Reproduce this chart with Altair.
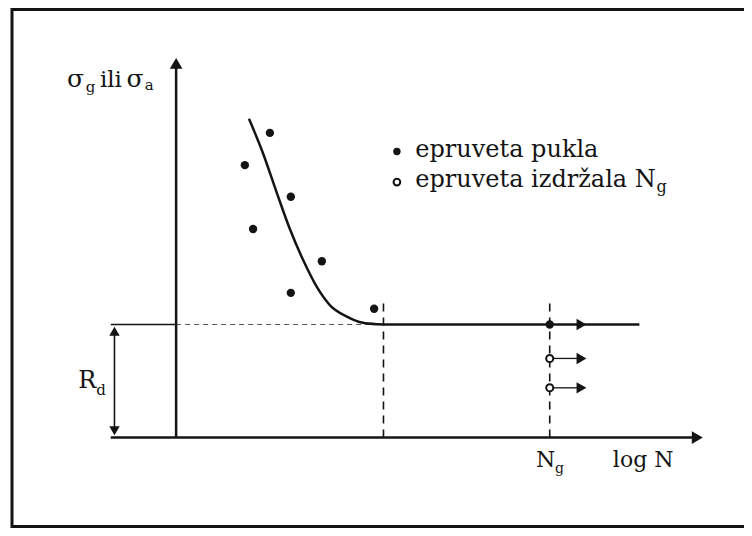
import altair as alt
import pandas as pd

# ---------------- data (schematic Wöhler diagram) ----------------
# S-N curve (log N, sigma) down to the endurance limit
curve_logN = [1.95, 2.32, 2.70, 3.05, 3.40, 3.77, 4.12, 4.57, 5.00, 5.40, 5.55]
curve_sigma = [282, 252, 216, 184, 157, 133, 117, 107, 101.5, 100.2, 100]

# specimens that broke ("epruveta pukla")
broken_logN = [2.51, 1.84, 3.07, 2.06, 3.90, 3.07, 5.30]
broken_sigma = [269.5, 241, 213, 184.5, 156, 128, 114]

# specimens that survived N_g ("epruveta izdržala N_g")
runout_logN = [10.0, 10.0, 10.0]
runout_sigma = [100, 70, 44]
runout_filled = [True, False, False]

R_d = 100          # endurance limit
N_D = 5.55         # knee of the curve
N_g = 10.0         # limit number of cycles
x_min, x_max = -4.5, 15.2
y_min, y_max = -80, 380

INK = "#141414"
FONT = "DejaVu Serif"

xs = alt.Scale(domain=[x_min, x_max], nice=False, zero=False)
ys = alt.Scale(domain=[y_min, y_max], nice=False, zero=False)


def X(f="x"):
    return alt.X(f"{f}:Q", scale=xs, axis=None)


def Y(f="y"):
    return alt.Y(f"{f}:Q", scale=ys, axis=None)


def segs(rows):
    return pd.DataFrame(rows, columns=["x", "x2", "y", "y2"])


def rule_layer(df, width, dash=None, color=INK):
    kw = dict(color=color, strokeWidth=width)
    if dash:
        kw["strokeDash"] = dash
    return alt.Chart(df).mark_rule(**kw).encode(
        x=X(), x2="x2:Q", y=Y(), y2="y2:Q"
    )


# ---------------- frame ----------------
frame = [
    alt.Chart(pd.DataFrame({"k": [0]})).mark_rule(color=INK, strokeWidth=3).encode(
        x=alt.value(4), y=alt.value(0), y2=alt.value(520)),
    alt.Chart(pd.DataFrame({"k": [0]})).mark_rule(color=INK, strokeWidth=3).encode(
        x=alt.value(4), x2=alt.value(736), y=alt.value(1.5)),
    alt.Chart(pd.DataFrame({"k": [0]})).mark_rule(color=INK, strokeWidth=3).encode(
        x=alt.value(4), x2=alt.value(736), y=alt.value(518.5)),
]

# ---------------- axes ----------------
axes = rule_layer(segs([
    [-1.75, 13.9, 0, 0],      # x axis (log N)
    [0, 0, 0, 330],           # y axis (sigma)
]), 2.5)

# endurance limit line
rd_left = rule_layer(segs([[-1.75, 0, R_d, R_d]]), 1.6)
rd_mid = rule_layer(segs([[0, N_D, R_d, R_d]]), 1.2, dash=[5, 4], color="#555555")
rd_right = rule_layer(segs([[N_D, 12.4, R_d, R_d]]), 2.5)

# vertical dashed guides
guides = rule_layer(segs([
    [N_D, N_D, 0, 122],
    [N_g, N_g, 0, 122],
]), 1.6, dash=[8, 6])

# R_d dimension arrow
rd_arrow = rule_layer(segs([[-1.65, -1.65, 4, 96]]), 1.6)

# run-out arrows
runout_arrows = rule_layer(segs([
    [N_g, 10.75, s, s] for s in runout_sigma[1:]
]), 1.3)

# arrow heads
heads = pd.DataFrame({
    "x": [13.95, 0, -1.65, -1.65, 10.85, 10.85, 10.85],
    "y": [0, 331, 94, 6, R_d, 70, 44],
    "shape": ["triangle-right", "triangle-up", "triangle-up", "triangle-down",
              "triangle-right", "triangle-right", "triangle-right"],
    "size": [160, 160, 110, 110, 130, 130, 130],
})
head_layer = alt.Chart(heads).mark_point(filled=True, color=INK, opacity=1).encode(
    x=X(), y=Y(),
    shape=alt.Shape("shape:N", scale=None),
    size=alt.Size("size:Q", scale=None),
)

# S-N curve
curve = alt.Chart(pd.DataFrame({"x": curve_logN, "y": curve_sigma})).mark_line(
    color=INK, strokeWidth=2.5, interpolate="monotone"
).encode(x=X(), y=Y())

# broken specimens
broken = alt.Chart(pd.DataFrame({"x": broken_logN, "y": broken_sigma})).mark_point(
    filled=True, color=INK, size=70, opacity=1, shape="circle"
).encode(x=X(), y=Y())

# run-outs
ro = pd.DataFrame({"x": runout_logN, "y": runout_sigma, "f": runout_filled})
runout_open = alt.Chart(ro[~ro["f"]]).mark_point(
    filled=False, color=INK, size=50, strokeWidth=2, shape="circle",
    fill="white", opacity=1
).encode(x=X(), y=Y())
runout_full = alt.Chart(ro[ro["f"]]).mark_point(
    filled=True, color=INK, size=70, opacity=1, shape="circle"
).encode(x=X(), y=Y())

# legend symbols
leg_filled = alt.Chart(pd.DataFrame({"x": [5.91], "y": [253]})).mark_point(
    filled=True, color=INK, size=55, opacity=1, shape="circle"
).encode(x=X(), y=Y())
leg_open = alt.Chart(pd.DataFrame({"x": [5.91], "y": [226]})).mark_point(
    filled=False, color=INK, size=45, strokeWidth=2, shape="circle", opacity=1
).encode(x=X(), y=Y())

# texts
labels = pd.DataFrame({
    "x": [-2.92, -2.42, -2.04, -1.33, -0.84,
          -2.62, -2.14,
          9.63, 10.14, 11.69,
          6.40, 6.40, 12.86],
    "y": [310, 305.5, 310, 310, 307.5,
          44, 37.5,
          -26, -31, -26,
          248, 221.5, 217],
    "text": ["σ", "g", "ili", "σ", "a",
             "R", "d",
             "N", "g", "log N",
             "epruveta pukla", "epruveta izdržala N", "g"],
    "fs": [25, 15, 23, 25, 15,
           24, 15,
           22, 14, 22,
           24, 24, 16],
})
text_layer = alt.Chart(labels).mark_text(
    align="left", baseline="alphabetic", font=FONT, color=INK
).encode(
    x=X(), y=Y(), text="text:N", size=alt.Size("fs:Q", scale=None)
)

chart = alt.layer(
    *frame, rd_mid, guides, rd_left, rd_right, axes, rd_arrow, runout_arrows,
    curve, broken, runout_full, runout_open, head_layer,
    leg_filled, leg_open, text_layer,
).properties(
    width=736, height=520,
    autosize=alt.AutoSizeParams(type="none"),
    padding=0,
).configure_view(stroke=None)

chart.save("out.html", embed_options={"renderer": "svg", "actions": False})
